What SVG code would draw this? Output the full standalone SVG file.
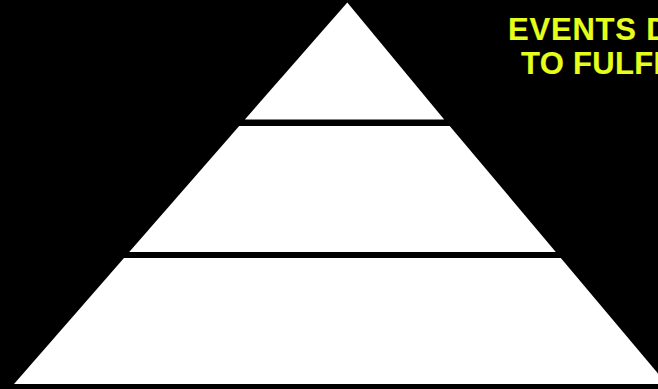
<svg xmlns="http://www.w3.org/2000/svg" width="658" height="389" viewBox="0 0 658 389">
  <style>
    .tier { fill: #ffffff; stroke: none; }
    .title { font-family: "Liberation Sans", Arial, sans-serif; font-weight: bold; font-size: 31px; fill: #e6ff1a; stroke: #e6ff1a; stroke-width: 0.15px; }
  </style>
  <rect x="0" y="0" width="658" height="389" fill="#000000"/>
  <g id="tier-top">
    <polygon class="tier" points="347.3,2.5 444.2,119.5 244.9,119.5"/>
  </g>
  <g id="tier-middle">
    <polygon class="tier" points="239.2,126 449.7,126 555.8,252 129.2,252"/>
  </g>
  <g id="tier-bottom">
    <polygon class="tier" points="124,258 560.8,258 666.9,384 14,384"/>
  </g>
  <g id="title">
    <text class="title" x="508" y="39.5" letter-spacing="0.8">EVENTS D</text>
    <text class="title" x="521" y="73.5" letter-spacing="0.3">TO FULFI</text>
  </g>
  <g id="connectors"/>
</svg>
